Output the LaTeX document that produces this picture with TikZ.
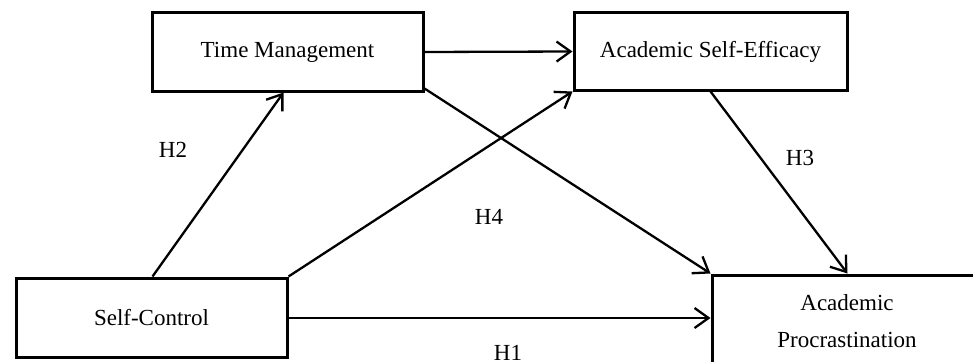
\documentclass[tikz,border=0pt]{standalone}
\usepackage{fontspec}
\setmainfont{Liberation Serif}
\usetikzlibrary{arrows.meta}
\begin{document}
\begin{tikzpicture}[x=1pt,y=-1pt,
  box/.style={draw=black, line width=3pt, fill=white, inner sep=0pt, align=center,
    font=\fontsize{23}{37}\selectfont},
  lab/.style={font=\fontsize{23}{28}\selectfont, inner sep=0pt},
  arr/.style={line width=2.3pt, -{Straight Barb[length=14pt,width=20pt,line width=2.3pt]}}]
\useasboundingbox (0,0) rectangle (973,361);
\fill[white] (0,0) rectangle (973,361);
\node[box, minimum width=271pt, minimum height=78pt] (tm) at (287.5,52) {Time Management};
\node[box, minimum width=273pt, minimum height=77pt] (ase) at (710.5,51.5) {Academic Self-Efficacy};
\node[box, minimum width=271pt, minimum height=79pt] (sc) at (151.5,317.5) {Self-Control};
\node[box, minimum width=273pt, minimum height=97pt] (ap) at (848.5,323.5) {};
\node[lab, align=center, font=\fontsize{23}{37}\selectfont] (aptext) at (847,321) {Academic\\Procrastination};
\draw[arr] (tm.east) -- (ase.west);
\draw[arr] ([xshift=1pt]sc.north) -- ([xshift=-4pt]tm.south);
\draw[arr] (sc.north east) -- (ase.south west);
\draw[arr] ([yshift=4pt]tm.south east) -- (ap.north west);
\draw[arr] (ase.south) -- ([xshift=-1pt]ap.north);
\draw[arr] (sc.east |- 0,318) coordinate (s1) -- (ap.west |- s1);
\node[lab] (h2) at (173,150) {H2};
\node[lab] (h4) at (489,217) {H4};
\node[lab] (h3) at (800,158) {H3};
\node[lab] (h1) at (508,353) {H1};
\end{tikzpicture}
\end{document}
